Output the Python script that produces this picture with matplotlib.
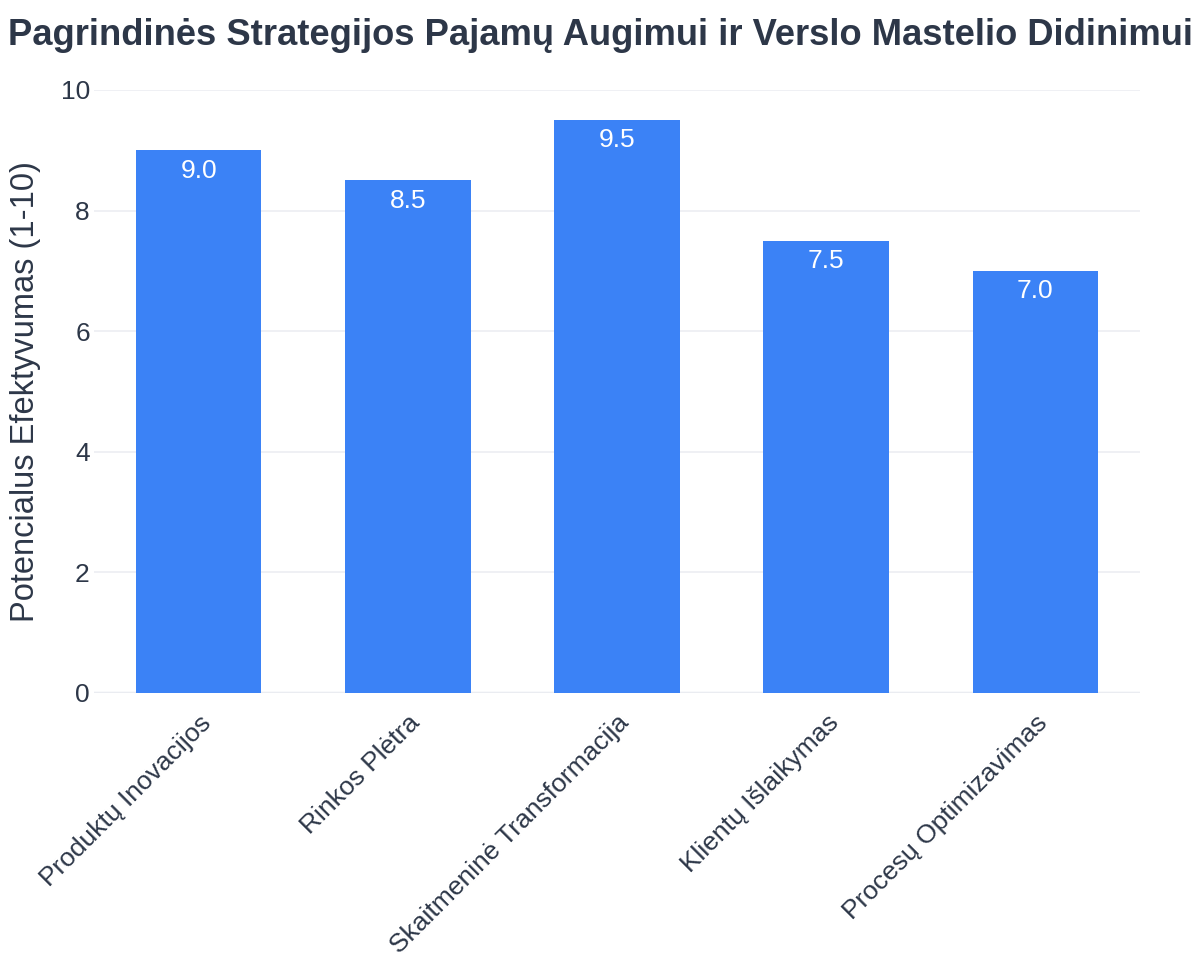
import matplotlib
matplotlib.use("Agg")
import matplotlib.pyplot as plt

plt.rcParams['font.family'] = ['Liberation Sans', 'DejaVu Sans']

# data
strategies = ['Produktų Inovacijos', 'Rinkos Plėtra', 'Skaitmeninė Transformacija',
              'Klientų Išlaikymas', 'Procesų Optimizavimas']
scores = [9.0, 8.5, 9.5, 7.5, 7.0]

title = 'Pagrindinės Strategijos Pajamų Augimui ir Verslo Mastelio Didinimui'
ylabel = 'Potencialus Efektyvumas (1-10)'

fig = plt.figure(figsize=(12, 9.75), dpi=100)
ax = fig.add_axes([0.0783, 0.2895, 0.8717, 0.6182])

x = range(len(strategies))
bars = ax.bar(x, scores, width=0.6, color='#3b82f6', zorder=2)

for b, v in zip(bars, scores):
    ax.annotate(f'{v:.1f}', xy=(b.get_x() + b.get_width() / 2, v),
                xytext=(0, -6), textcoords='offset points',
                ha='center', va='top', color='white', fontsize=19)

ax.set_xlim(-0.5, len(strategies) - 0.5)
ax.set_ylim(0, 10)
ax.set_yticks([0, 2, 4, 6, 8, 10])
ax.grid(axis='y', color='#eceef2', linewidth=1.2, zorder=0)
ax.axhline(0, color='#e2e8f0', linewidth=2.5, zorder=1)
for s in ax.spines.values():
    s.set_visible(False)

ax.set_xticks(list(x))
ax.set_xticklabels(strategies, rotation=45, ha='right', va='top',
                   rotation_mode='anchor', fontsize=19, color='#2d3748')
ax.tick_params(axis='x', length=0, pad=13)
ax.tick_params(axis='y', length=0, pad=3, labelsize=19, labelcolor='#2d3748')

ax.set_ylabel(ylabel, fontsize=23.5, color='#2d3748', labelpad=14)

# title kept just inside the figure width
fig.text(0.5, 0.964, title, ha='center', va='center', fontsize=26.2,
         fontweight='bold', color='#2d3748')

fig.savefig('out.png', dpi=100)
